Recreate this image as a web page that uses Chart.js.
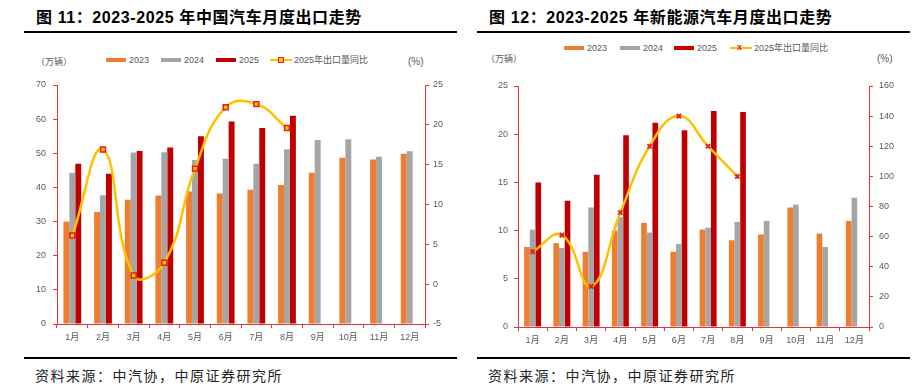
<!DOCTYPE html>
<html lang="zh">
<head>
<meta charset="UTF-8">
<title>汽车月度出口走势</title>
<script src="https://cdn.jsdelivr.net/npm/chart.js"></script>
<style>
  body { margin: 0; width: 922px; height: 386px; background: #fff; position: relative; overflow: hidden;
         font-family: "Liberation Sans", "Noto Sans CJK SC", sans-serif; }
  .abs { position: absolute; white-space: nowrap; }
  .title { font-family: "Liberation Sans", "Noto Sans CJK SC", sans-serif; font-weight: 700; font-size: 16px; color: #000; letter-spacing: 0.6px; line-height: 20px; }
  .rule { position: absolute; height: 2px; background: #000; }
  .src { font-family: "Noto Sans CJK SC", sans-serif; font-size: 14px; color: #222; letter-spacing: 1.5px; line-height: 18px; }
  .unit { font-size: 9px; color: #595959; line-height: 12px; }
  .lg { font-size: 9px; color: #595959; line-height: 12px; }
  .sw { position: absolute; height: 4px; }
  canvas { position: absolute; }
</style>
</head>
<body>
<div class="abs title" style="left:36px;top:8px;">图 11：2023-2025 年中国汽车月度出口走势</div>
<div class="rule" style="left:24px;top:31px;width:433px;"></div>
<div class="abs title" style="left:489px;top:8px;">图 12：2023-2025 年新能源汽车月度出口走势</div>
<div class="rule" style="left:477px;top:31px;width:433px;"></div>

<div class="abs unit" style="left:36px;top:56px;">（万辆）</div>
<div class="abs unit" style="left:408px;top:56px;font-size:10px;">(%)</div>
<div class="abs unit" style="left:486px;top:53px;">（万辆）</div>
<div class="abs unit" style="left:877px;top:53px;font-size:10px;">(%)</div>

<div id="lg1"></div>
<div id="lg2"></div>

<canvas id="c1" width="460" height="280" style="left:0;top:70px;width:460px;height:280px;"></canvas>
<canvas id="c2" width="462" height="280" style="left:460px;top:70px;width:462px;height:280px;"></canvas>

<div class="rule" style="left:24px;top:357px;width:433px;"></div>
<div class="abs src" style="left:35px;top:366px;">资料来源：中汽协，中原证券研究所</div>
<div class="rule" style="left:477px;top:357px;width:433px;"></div>
<div class="abs src" style="left:488px;top:366px;">资料来源：中汽协，中原证券研究所</div>

<script>
  const months = ['1月', '2月', '3月', '4月', '5月', '6月', '7月', '8月', '9月', '10月', '11月', '12月'];
  const seriesNames = ['2023', '2024', '2025', '2025年出口量同比'];

  // 图11 中国汽车出口（万辆）/ 同比（%）
  const car2023 = [30.0, 32.8, 36.4, 37.6, 38.8, 38.2, 39.3, 40.7, 44.3, 48.7, 48.2, 49.9];
  const car2024 = [44.3, 37.7, 50.2, 50.3, 48.0, 48.4, 46.9, 51.2, 53.9, 54.1, 49.0, 50.6];
  const car2025 = [46.9, 44.0, 50.7, 51.7, 55.0, 59.3, 57.4, 61.0, null, null, null, null];
  const carYoy = [6.1, 16.9, 1.1, 2.7, 14.5, 22.2, 22.6, 19.6, null, null, null, null];

  // 图12 新能源汽车出口（万辆）/ 同比（%）
  const nev2023 = [8.3, 8.7, 7.8, 10.0, 10.8, 7.8, 10.1, 9.0, 9.6, 12.4, 9.7, 11.0];
  const nev2024 = [10.1, 8.2, 12.4, 11.4, 9.8, 8.6, 10.3, 10.9, 11.0, 12.7, 8.3, 13.4];
  const nev2025 = [15.0, 13.1, 15.8, 19.9, 21.2, 20.4, 22.4, 22.3, null, null, null, null];
  const nevYoy = [50, 61, 27, 76, 120, 140, 120, 100, null, null, null, null];

  const C_ORANGE = '#ED7D31', C_GRAY = '#A5A5A5', C_RED = '#C00000', C_LINE = '#FFC000', C_AXIS = '#E4343B';
  const tickFont = { family: '"Liberation Sans", "Noto Sans CJK SC", sans-serif', size: 9 };

  function legend(id, top, xs, marker) {
    const colors = [C_ORANGE, C_GRAY, C_RED];
    let html = '';
    for (let i = 0; i < 3; i++) {
      html += `<div class="sw" style="left:${xs[i]}px;top:${top - 2}px;width:20px;background:${colors[i]}"></div>`;
      html += `<div class="abs lg" style="left:${xs[i] + 23}px;top:${top - 6}px;">${seriesNames[i]}</div>`;
    }
    const lx = xs[3];
    html += `<div class="sw" style="left:${lx}px;top:${top - 1}px;width:22px;height:2px;background:${C_LINE}"></div>`;
    if (marker === 'rect') {
      html += `<div class="abs" style="left:${lx + 8}px;top:${top - 3}px;width:4px;height:4px;background:${C_LINE};border:1px solid #E0201B"></div>`;
    } else {
      html += `<div class="abs" style="left:${lx + 7}px;top:${top - 7}px;font-size:9px;line-height:12px;color:#E0201B;font-weight:700">x</div>`;
    }
    html += `<div class="abs lg" style="left:${lx + 24}px;top:${top - 6}px;">${seriesNames[3]}</div>`;
    document.getElementById(id).innerHTML = html;
  }
  legend('lg1', 60, [106, 161, 216, 270], 'rect');
  legend('lg2', 48, [564, 620, 674, 730], 'cross');

  function axisY(pos, min, max, step, width, pad) {
    return {
      position: pos, min: min, max: max,
      border: { color: C_AXIS, width: 1 },
      grid: { drawOnChartArea: false, color: C_AXIS, tickLength: 4 },
      ticks: { stepSize: step, color: '#595959', font: tickFont, padding: pad },
      afterFit: s => { s.width = width; }
    };
  }

  function makeChart(id, d23, d24, d25, yoy, cfg) {
    new Chart(document.getElementById(id), {
      data: {
        labels: months,
        datasets: [
          { type: 'line', label: seriesNames[3], data: yoy, yAxisID: 'y1', order: 0,
            borderColor: C_LINE, borderWidth: 2.5, tension: 0.45, spanGaps: false,
            pointStyle: cfg.pointStyle, pointRadius: cfg.pointRadius,
            pointBackgroundColor: cfg.pointFill, pointBorderColor: '#E0201B', pointBorderWidth: cfg.pointBorder },
          { type: 'bar', label: seriesNames[0], data: d23, backgroundColor: C_ORANGE, yAxisID: 'y', order: 1 },
          { type: 'bar', label: seriesNames[1], data: d24, backgroundColor: C_GRAY, yAxisID: 'y', order: 1 },
          { type: 'bar', label: seriesNames[2], data: d25, backgroundColor: C_RED, yAxisID: 'y', order: 1 }
        ]
      },
      options: {
        responsive: false,
        animation: false,
        maintainAspectRatio: false,
        layout: { padding: { top: cfg.top, left: 0, right: 0, bottom: 0 } },
        datasets: { bar: { categoryPercentage: 0.58, barPercentage: 1.0 } },
        plugins: { legend: { display: false }, tooltip: { enabled: false } },
        scales: {
          x: {
            border: { color: C_AXIS, width: 1 },
            grid: { drawOnChartArea: false, color: C_AXIS, tickLength: 4, offset: true },
            ticks: { color: '#595959', font: tickFont, padding: cfg.xPad, maxRotation: 0 },
            afterFit: s => { s.height = cfg.xHeight; }
          },
          y: axisY('left', cfg.yMin, cfg.yMax, cfg.yStep, cfg.leftW, cfg.leftPad),
          y1: axisY('right', cfg.y1Min, cfg.y1Max, cfg.y1Step, cfg.rightW, cfg.rightPad)
        }
      }
    });
  }

  makeChart('c1', car2023, car2024, car2025, carYoy, {
    top: 15, xHeight: 26, xPad: 4, leftW: 57, rightW: 35, leftPad: 7, rightPad: 4,
    yMin: 0, yMax: 70, yStep: 10, y1Min: -5, y1Max: 25, y1Step: 5,
    pointStyle: 'rect', pointRadius: 3.5, pointFill: C_LINE, pointBorder: 1.5
  });
  makeChart('c2', nev2023, nev2024, nev2025, nevYoy, {
    top: 16, xHeight: 23, xPad: 4, leftW: 58, rightW: 53, leftPad: 6, rightPad: 6,
    yMin: 0, yMax: 25, yStep: 5, y1Min: 0, y1Max: 160, y1Step: 20,
    pointStyle: 'crossRot', pointRadius: 3, pointFill: '#E0201B', pointBorder: 2
  });
</script>
</body>
</html>
